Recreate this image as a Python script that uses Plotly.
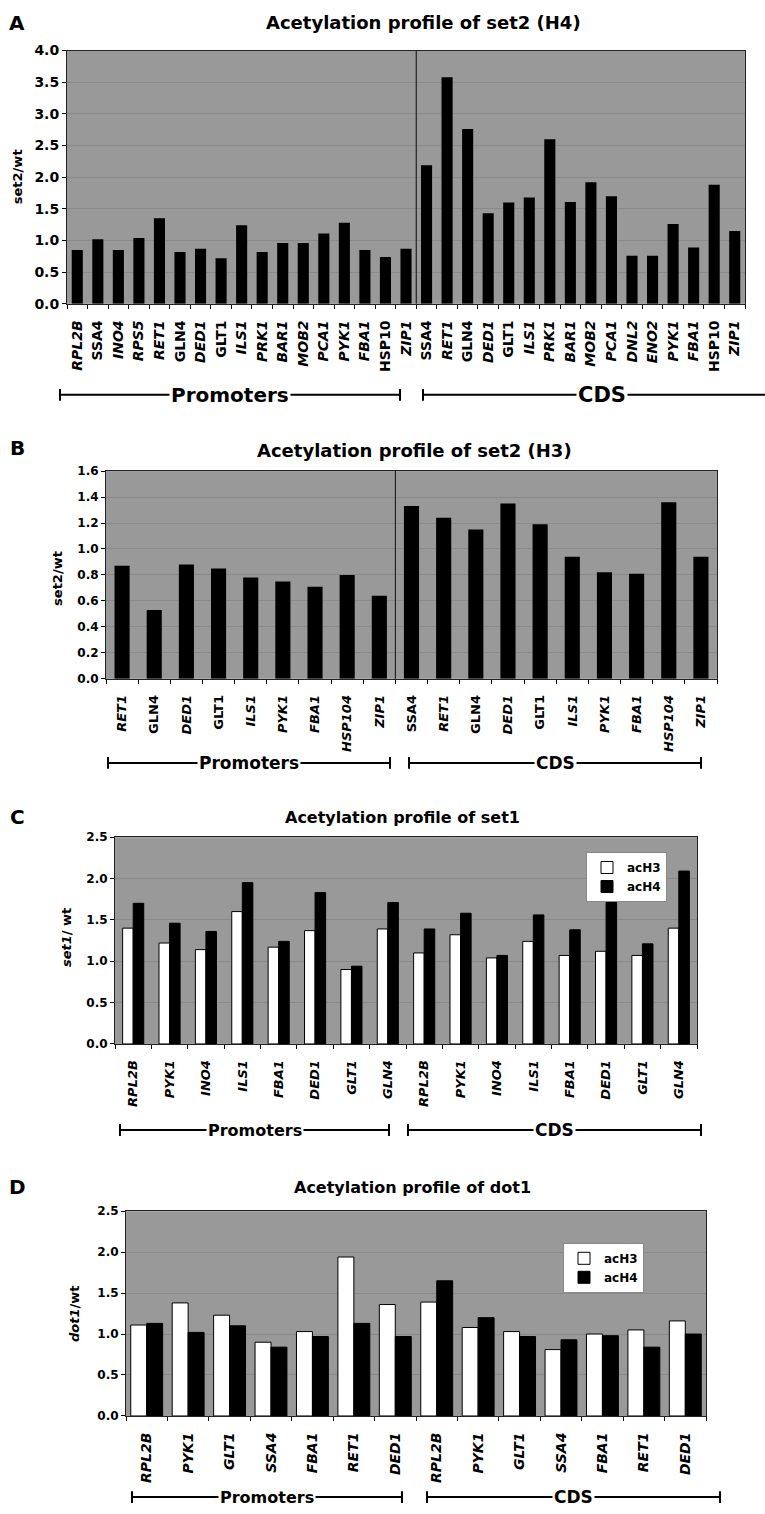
import plotly.graph_objects as go

W, H = 765, 1514
FONT = "DejaVu Sans"

# ---------------- data ----------------
a_prom_labels = ["RPL2B", "SSA4", "INO4", "RPS5", "RET1", "GLN4", "DED1", "GLT1", "ILS1",
                 "PRK1", "BAR1", "MOB2", "PCA1", "PYK1", "FBA1", "HSP10", "ZIP1"]
a_prom_values = [0.85, 1.02, 0.85, 1.04, 1.35, 0.82, 0.87, 0.72, 1.24,
                 0.82, 0.96, 0.96, 1.11, 1.28, 0.85, 0.74, 0.87]
a_cds_labels = ["SSA4", "RET1", "GLN4", "DED1", "GLT1", "ILS1", "PRK1", "BAR1",
                "MOB2", "PCA1", "DNL2", "ENO2", "PYK1", "FBA1", "HSP10", "ZIP1"]
a_cds_values = [2.19, 3.58, 2.76, 1.43, 1.60, 1.68, 2.60, 1.61,
                1.92, 1.70, 0.76, 0.76, 1.26, 0.89, 1.88, 1.15]

b_prom_labels = ["RET1", "GLN4", "DED1", "GLT1", "ILS1", "PYK1", "FBA1", "HSP104", "ZIP1"]
b_prom_values = [0.87, 0.53, 0.88, 0.85, 0.78, 0.75, 0.71, 0.80, 0.64]
b_cds_labels = ["SSA4", "RET1", "GLN4", "DED1", "GLT1", "ILS1", "PYK1", "FBA1", "HSP104", "ZIP1"]
b_cds_values = [1.33, 1.24, 1.15, 1.35, 1.19, 0.94, 0.82, 0.81, 1.36, 0.94]

c_labels = ["RPL2B", "PYK1", "INO4", "ILS1", "FBA1", "DED1", "GLT1", "GLN4"]
c_prom_h3 = [1.40, 1.22, 1.14, 1.60, 1.17, 1.37, 0.90, 1.39]
c_prom_h4 = [1.70, 1.46, 1.36, 1.95, 1.24, 1.83, 0.94, 1.71]
c_cds_h3 = [1.10, 1.32, 1.04, 1.24, 1.07, 1.12, 1.07, 1.40]
c_cds_h4 = [1.39, 1.58, 1.07, 1.56, 1.38, 1.71, 1.21, 2.09]

d_labels = ["RPL2B", "PYK1", "GLT1", "SSA4", "FBA1", "RET1", "DED1"]
d_prom_h3 = [1.11, 1.38, 1.23, 0.90, 1.03, 1.94, 1.36]
d_prom_h4 = [1.13, 1.02, 1.10, 0.84, 0.97, 1.13, 0.97]
d_cds_h3 = [1.39, 1.08, 1.03, 0.81, 1.00, 1.05, 1.16]
d_cds_h4 = [1.65, 1.20, 0.97, 0.93, 0.98, 0.84, 1.00]

upright_genes = {"SSA4", "GLN4", "GLT1", "HSP10"}


def px(x):
    return x / W


def py(y):
    return 1 - y / H


def tick_text(labels, upright=()):
    return [g if g in upright else "<i>" + g + "</i>" for g in labels]


fig = go.Figure()

a_lab = tick_text(a_prom_labels + a_cds_labels, upright_genes)
b_lab = tick_text(b_prom_labels + b_cds_labels, upright_genes)
c_lab = tick_text(c_labels + c_labels)
d_lab = tick_text(d_labels + d_labels)

a_pos = list(range(len(a_lab)))
b_pos = list(range(len(b_lab)))
c_pos = list(range(len(c_lab)))
d_pos = list(range(len(d_lab)))

fig.add_trace(go.Bar(x=a_pos, y=a_prom_values + a_cds_values, width=0.54,
                     marker=dict(color="black", line=dict(width=0)),
                     showlegend=False, xaxis="x", yaxis="y"))
fig.add_trace(go.Bar(x=b_pos, y=b_prom_values + b_cds_values, width=0.47,
                     marker=dict(color="black", line=dict(width=0)),
                     showlegend=False, xaxis="x2", yaxis="y2"))

wc = 0.29
fig.add_trace(go.Bar(x=c_pos, y=c_prom_h3 + c_cds_h3, width=wc, offset=-wc, name="acH3",
                     marker=dict(color="white", line=dict(color="black", width=1)),
                     xaxis="x3", yaxis="y3", legend="legend"))
fig.add_trace(go.Bar(x=c_pos, y=c_prom_h4 + c_cds_h4, width=wc, offset=0, name="acH4",
                     marker=dict(color="black", line=dict(color="black", width=1)),
                     xaxis="x3", yaxis="y3", legend="legend"))
wd = 0.385
fig.add_trace(go.Bar(x=d_pos, y=d_prom_h3 + d_cds_h3, width=wd, offset=-wd, name="acH3",
                     marker=dict(color="white", line=dict(color="black", width=1)),
                     xaxis="x4", yaxis="y4", legend="legend2"))
fig.add_trace(go.Bar(x=d_pos, y=d_prom_h4 + d_cds_h4, width=wd, offset=0, name="acH4",
                     marker=dict(color="black", line=dict(color="black", width=1)),
                     xaxis="x4", yaxis="y4", legend="legend2"))

panels = [
    # (suffix, labels, x0, x1, ytop, ybot, ymax, dtick, xfont, yfont)
    ("", a_lab, 67, 745, 43, 299, 4.0, 0.5, 14, 14),
    ("2", b_lab, 106, 717, 468, 678, 1.6, 0.2, 13, 12),
    ("3", c_lab, 115, 697, 838, 1047, 2.5, 0.5, 13, 12),
    ("4", d_lab, 126, 706, 1216, 1423, 2.5, 0.5, 14, 12),
]

layout = dict(
    width=W, height=H, autosize=False,
    margin=dict(l=0, r=0, t=0, b=0),
    paper_bgcolor="white", plot_bgcolor="#999999",
    barmode="overlay",
    font=dict(family=FONT, color="black", weight="bold"),
)

for suf, labels, x0, x1, yt, yb, ymax, dt, xf, yf in panels:
    n = len(labels)
    layout["xaxis" + suf] = dict(
        domain=[px(x0), px(x1)], anchor="y" + suf,
        range=[-0.5, n - 0.5],
        tickmode="array", tickvals=list(range(n)), ticktext=labels,
        ticks="", tickangle=-90, ticklabelstandoff=10,
        tickfont=dict(family=FONT, size=xf, weight="bold"),
        minor=dict(tickmode="array", tickvals=[i - 0.5 for i in range(n + 1)],
                   ticks="outside", ticklen=4, tickcolor="black", showgrid=False),
        showline=True, mirror=True, linecolor="#222222", linewidth=1,
        showgrid=False, zeroline=False, fixedrange=True,
    )
    layout["yaxis" + suf] = dict(
        domain=[py(yb), py(yt)], anchor="x" + suf,
        range=[0, ymax], dtick=dt, tickformat=".1f",
        ticks="outside", ticklen=4, tickcolor="black",
        tickfont=dict(family=FONT, size=yf, weight="bold"),
        showline=True, mirror=True, linecolor="#222222", linewidth=1,
        showgrid=True, gridcolor="#8a8a8a", gridwidth=1, zeroline=False,
    )

for key, lx, ly in [("legend", 586, 853), ("legend2", 563, 1248)]:
    layout[key] = dict(
        x=px(lx), y=py(ly), xanchor="left", yanchor="top",
        bgcolor="white", bordercolor="#888888", borderwidth=1,
        font=dict(family=FONT, size=12, weight="bold"), itemwidth=30,
        tracegroupgap=0,
    )

fig.update_layout(**layout)

ann = []
shapes = []


def text(label, x, y, size, **kw):
    d = dict(text=label, x=px(x), y=py(y), xref="paper", yref="paper",
             xanchor="center", yanchor="middle", showarrow=False,
             font=dict(family=FONT, size=size, weight="bold"))
    d.update(kw)
    ann.append(d)


# panel letters and titles
for letter, ly in [("A", 15), ("B", 445), ("C", 818), ("D", 1192)]:
    text(letter, 17, ly, 20)
for title, tx, ty, fs in [("Acetylation profile of set2 (H4)", 423, 15, 18),
                          ("Acetylation profile of set2 (H3)", 414, 447, 18),
                          ("Acetylation profile of set1", 402, 818, 16),
                          ("Acetylation profile of dot1", 412, 1192, 16)]:
    text(title, tx, ty, fs)

# y-axis titles
for label, tx, ty in [("set2/wt", 17, 171), ("set2/wt", 58, 576),
                      ("<i>set1</i>/ wt", 66, 940), ("<i>dot1</i>/wt", 74, 1320)]:
    text(label, tx, ty, 13, textangle=-90)

# promoter / CDS divider lines in A and B
shapes.append(dict(type="line", xref="x", yref="y domain",
                   x0=len(a_prom_labels) - 0.5, x1=len(a_prom_labels) - 0.5, y0=0, y1=1,
                   line=dict(color="#222222", width=1.2)))
shapes.append(dict(type="line", xref="x2", yref="y2 domain",
                   x0=len(b_prom_labels) - 0.5, x1=len(b_prom_labels) - 0.5, y0=0, y1=1,
                   line=dict(color="#222222", width=1.2)))


def bracket(x0, x1, y, label, size, tx=None, right_cap=True):
    shapes.append(dict(type="line", xref="paper", yref="paper",
                       x0=px(x0), x1=px(x1), y0=py(y), y1=py(y),
                       line=dict(color="black", width=2)))
    caps = [x0, x1] if right_cap else [x0]
    for xc in caps:
        shapes.append(dict(type="line", xref="paper", yref="paper",
                           x0=px(xc), x1=px(xc), y0=py(y - 6), y1=py(y + 6),
                           line=dict(color="black", width=2)))
    text(label, (x0 + x1) / 2 if tx is None else tx, y, size,
         bgcolor="white", borderpad=1)


bracket(60, 400, 391, "Promoters", 20)
bracket(423, 780, 391, "CDS", 21, tx=602, right_cap=False)
bracket(108, 390, 763, "Promoters", 17)
bracket(409, 701, 763, "CDS", 17)
bracket(120, 389, 1134, "Promoters", 16)
bracket(408, 701, 1134, "CDS", 17)
bracket(132, 402, 1505, "Promoters", 16)
bracket(427, 720, 1505, "CDS", 17)

fig.update_layout(annotations=ann, shapes=shapes)

fig.write_html("out.html")
